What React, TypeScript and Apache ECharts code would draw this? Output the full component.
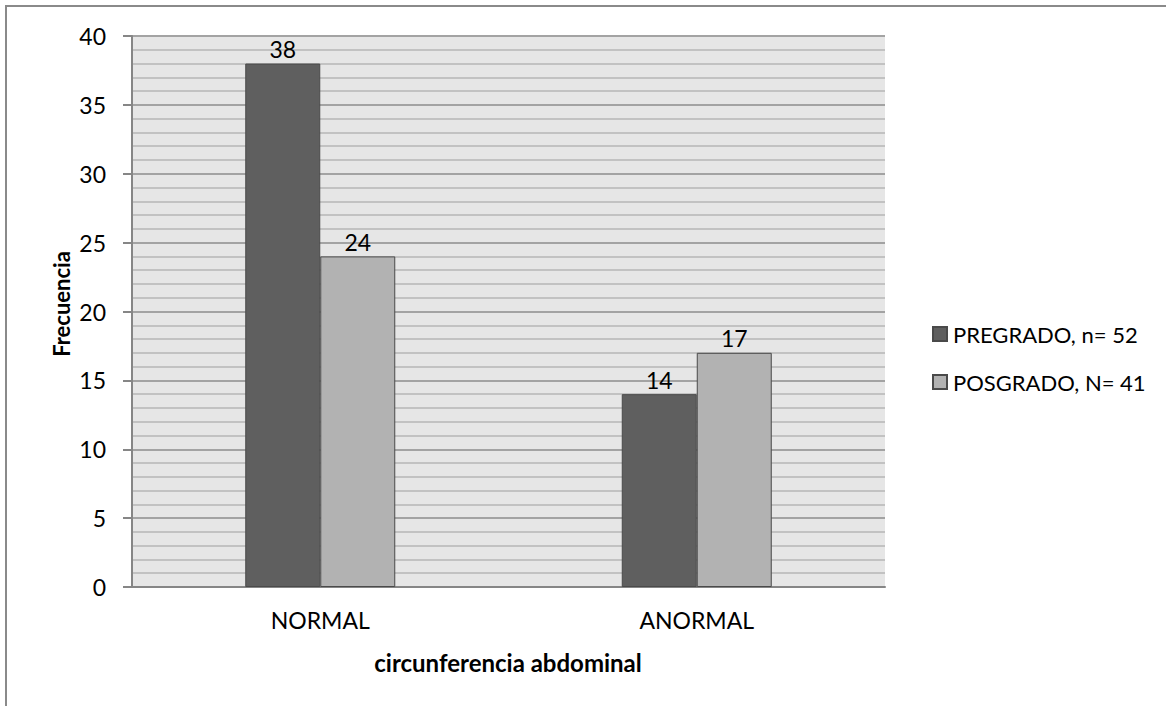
import React, { useEffect, useRef } from "react";
import * as echarts from "echarts";

const categories = ["NORMAL", "ANORMAL"];
const pregrado = [38, 14];
const posgrado = [24, 17];
const seriesNames = ["PREGRADO, n= 52", "POSGRADO, N= 41"];
const yTicks = { min: 0, max: 40, interval: 5 };

const FONT = "Lato, 'Noto Sans', sans-serif";

export default function App() {
  const ref = useRef<HTMLDivElement>(null);

  useEffect(() => {
    if (!ref.current) return;
    const chart = echarts.init(ref.current, null, { renderer: "svg" });
    const labelStyle = {
      show: true,
      position: "top" as const,
      distance: 3,
      color: "#000",
      fontSize: 23,
      fontFamily: FONT,
    };
    chart.setOption({
      animation: false,
      backgroundColor: "#fff",
      textStyle: { fontFamily: FONT },
      graphic: [
        {
          type: "rect",
          shape: { x: 6, y: 6, width: 1180, height: 720 },
          style: { fill: "none", stroke: "#8a8a8a", lineWidth: 2 },
          silent: true,
        },
        {
          type: "text",
          x: 508,
          y: 662,
          style: {
            text: "circunferencia abdominal",
            fontSize: 24,
            fontWeight: "bold",
            fontFamily: FONT,
            fill: "#000",
            align: "center",
            verticalAlign: "middle",
          },
        },
        {
          type: "text",
          x: 61,
          y: 304,
          rotation: Math.PI / 2,
          style: {
            text: "Frecuencia",
            fontSize: 22,
            fontWeight: "bold",
            fontFamily: FONT,
            fill: "#000",
            align: "center",
            verticalAlign: "middle",
          },
        },
      ],
      grid: {
        left: 132,
        top: 36,
        width: 753,
        height: 551,
        show: true,
        backgroundColor: "#e6e6e6",
        borderWidth: 0,
        containLabel: false,
      },
      legend: {
        orient: "vertical",
        left: 927,
        top: 318,
        itemWidth: 14,
        itemHeight: 14,
        itemGap: 26,
        icon: "rect",
        textStyle: { fontSize: 22, lineHeight: 22, fontFamily: FONT, color: "#000", padding: [0, 0, 0, 1] },
        data: seriesNames,
      },
      xAxis: {
        type: "category",
        data: categories,
        axisLine: { show: true, lineStyle: { color: "#868686", width: 2 } },
        axisTick: { show: false },
        axisLabel: { fontSize: 23, color: "#000", fontFamily: FONT, margin: 21 },
        splitLine: { show: false },
      },
      yAxis: {
        type: "value",
        min: yTicks.min,
        max: yTicks.max,
        interval: yTicks.interval,
        axisLine: { show: true, lineStyle: { color: "#868686", width: 2 } },
        axisTick: { show: true, inside: false, length: 9, lineStyle: { color: "#868686", width: 2 } },
        axisLabel: { fontSize: 23, color: "#000", fontFamily: FONT, margin: 26 },
        splitLine: { show: true, lineStyle: { color: "#a3a3a3", width: 2 } },
        minorTick: { show: false, splitNumber: 5 },
        minorSplitLine: { show: true, lineStyle: { color: "#c2c2c2", width: 2 } },
      },
      series: [
        {
          name: seriesNames[0],
          type: "bar",
          data: pregrado,
          barWidth: 75,
          barGap: "0%",
          itemStyle: { color: "#5f5f5f", borderColor: "#4a4a4a", borderWidth: 1 },
          label: labelStyle,
        },
        {
          name: seriesNames[1],
          type: "bar",
          data: posgrado,
          barWidth: 75,
          barGap: "0%",
          itemStyle: { color: "#b2b2b2", borderColor: "#4a4a4a", borderWidth: 1 },
          label: labelStyle,
        },
      ],
    });
    return () => chart.dispose();
  }, []);

  return (
    <div
      ref={ref}
      style={{ position: "absolute", left: 0, top: 0, width: 1166, height: 706 }}
    />
  );
}
